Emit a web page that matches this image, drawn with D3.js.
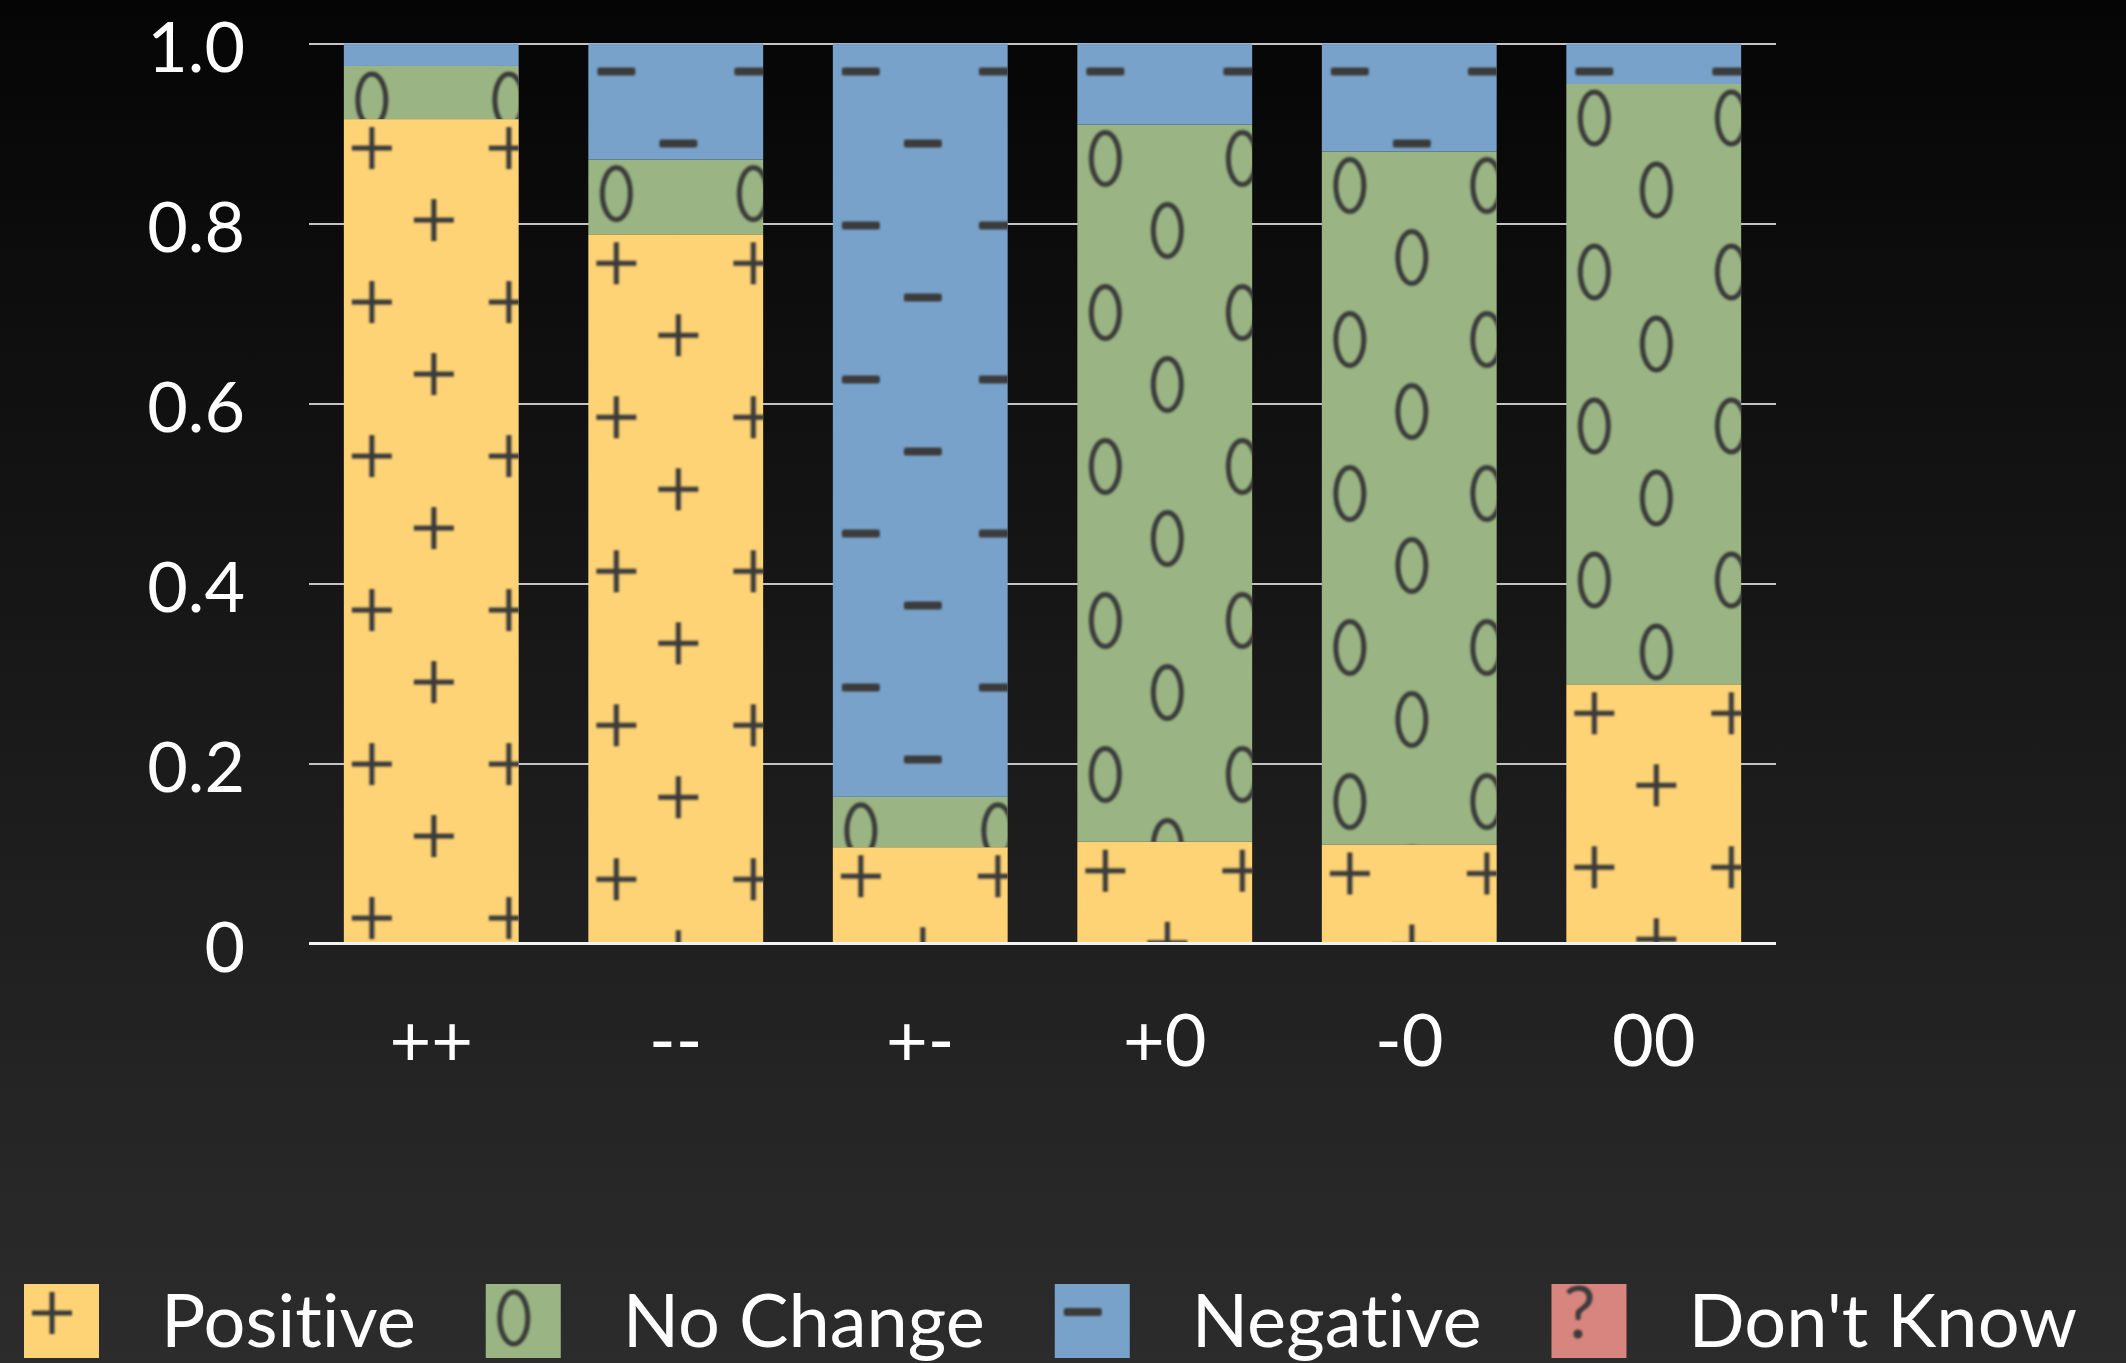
<!DOCTYPE html>
<html>
<head>
<meta charset="utf-8">
<script src="https://cdn.jsdelivr.net/npm/d3@7"></script>
<style>
  html, body { margin: 0; padding: 0; background: #000; overflow: hidden; }
  text { font-family: Lato, "Open Sans", sans-serif; font-variant-ligatures: none; font-feature-settings: "liga" 0, "clig" 0; }
</style>
</head>
<body>
<svg id="chart" width="2126" height="1363"></svg>
<script>
// Share of responses per outcome pair
const categories = ["++", "--", "+-", "+0", "-0", "00"];
const seriesNames = ["Positive", "No Change", "Negative", "Don't Know"];
const positive = [0.916, 0.788, 0.107, 0.113, 0.110, 0.288];
const noChange = [0.059, 0.083, 0.056, 0.797, 0.770, 0.667];
const negative = [0.025, 0.129, 0.837, 0.090, 0.120, 0.045];
const dontKnow = [0, 0, 0, 0, 0, 0];
const yTicks = [0, 0.2, 0.4, 0.6, 0.8, 1.0];
const yTickLabels = ["0", "0.2", "0.4", "0.6", "0.8", "1.0"];

const seriesValues = [positive, noChange, negative, dontKnow];

// Fill colour and marker glyph for each response type
const style = {
  "Positive":   { fill: "#fdd375", glyph: "plus",  cy: 29 },
  "No Change":  { fill: "#9ab583", glyph: "zero",  cy: 34 },
  "Negative":   { fill: "#78a2c9", glyph: "minus", cy: 28 },
  "Don't Know": { fill: "#d9857f", glyph: "quest", cy: 28 }
};
const glyphColor = "#3a3a3a";

const W = 2126, H = 1363;
const svg = d3.select("#chart");
const defs = svg.append("defs");

// Background: dark vertical gradient
const grad = defs.append("linearGradient").attr("id", "bg")
  .attr("x1", 0).attr("y1", 0).attr("x2", 0).attr("y2", 1);
grad.append("stop").attr("offset", "0%").attr("stop-color", "#050505");
grad.append("stop").attr("offset", "100%").attr("stop-color", "#2c2c2c");
svg.append("rect").attr("width", W).attr("height", H).attr("fill", "url(#bg)");

defs.append("filter").attr("id", "soft")
  .attr("x", "-20%").attr("y", "-20%").attr("width", "140%").attr("height", "140%")
  .append("feGaussianBlur").attr("stdDeviation", 0.8);

// Scales
const plotLeft = 309, plotRight = 1776, plotTop = 43.5, plotBottom = 943.5;
const x = d3.scaleBand().domain(categories)
  .range([plotLeft, plotRight]).paddingInner(0.285).paddingOuter(0.1425);
const y = d3.scaleLinear().domain([0, 1]).range([plotBottom, plotTop]);

// Draw one marker glyph centred at (cx, cy)
function drawGlyph(g, kind, cx, cy) {
  const s = g.append("g").attr("filter", "url(#soft)");
  if (kind === "plus") {
    s.append("path").attr("d", `M${cx - 20},${cy}H${cx + 20}M${cx},${cy - 21}V${cy + 21}`)
      .attr("stroke", glyphColor).attr("stroke-width", 5).attr("fill", "none");
  } else if (kind === "zero") {
    s.append("ellipse").attr("cx", cx).attr("cy", cy).attr("rx", 14).attr("ry", 26)
      .attr("stroke", glyphColor).attr("stroke-width", 5).attr("fill", "none");
  } else if (kind === "minus") {
    s.append("rect").attr("x", cx - 19).attr("y", cy - 4).attr("width", 38).attr("height", 8)
      .attr("rx", 2.5).attr("fill", glyphColor);
  } else {
    s.append("text").attr("x", cx).attr("y", cy + 26).attr("text-anchor", "middle")
      .attr("font-size", 72).attr("fill", glyphColor).text("?");
  }
}

// Staggered marker texture anchored at a segment's top-left corner
const tileW = 137, tileH = 154;
let patCount = 0;
function makePattern(name, left, top) {
  const st = style[name];
  const id = "pat" + (patCount++);
  const p = defs.append("pattern").attr("id", id)
    .attr("patternUnits", "userSpaceOnUse")
    .attr("x", left - 2).attr("y", top + st.cy - 32)
    .attr("width", tileW).attr("height", tileH);
  drawGlyph(p, st.glyph, 30, 32);
  drawGlyph(p, st.glyph, 92, 104);
  return id;
}

// Gridlines (behind the bars)
svg.append("g").attr("class", "grid")
  .attr("transform", `translate(${plotLeft},0)`)
  .call(d3.axisRight(y).tickValues(yTicks).tickSize(plotRight - plotLeft).tickFormat(""))
  .call(g => g.select(".domain").remove())
  .call(g => g.selectAll("line").attr("stroke", "#c4c4c4").attr("stroke-width", 2));

// Stacked bars
const rows = categories.map((c, i) => {
  const r = { category: c };
  seriesNames.forEach((s, k) => { r[s] = seriesValues[k][i]; });
  return r;
});
const stacked = d3.stack().keys(seriesNames)(rows);

const barsG = svg.append("g");
stacked.forEach(layer => {
  const name = layer.key;
  const lg = barsG.append("g");
  layer.forEach(d => {
    const cat = d.data.category;
    const x0 = x(cat), bw = x.bandwidth();
    const yTop = y(d[1]), h = y(d[0]) - y(d[1]);
    if (h <= 0) return;
    lg.append("rect").attr("x", x0).attr("y", yTop).attr("width", bw).attr("height", h)
      .attr("fill", style[name].fill);
    const pid = makePattern(name, x0, yTop);
    lg.append("rect").attr("x", x0).attr("y", yTop).attr("width", bw).attr("height", h)
      .attr("fill", `url(#${pid})`);
  });
});

// Baseline
svg.append("line").attr("x1", plotLeft).attr("x2", plotRight)
  .attr("y1", y(0)).attr("y2", y(0))
  .attr("stroke", "#f2f2f2").attr("stroke-width", 3);

// Y tick labels
svg.append("g").attr("transform", `translate(245,0)`)
  .call(d3.axisLeft(y).tickValues(yTicks).tickSize(0).tickPadding(0)
    .tickFormat((d, i) => yTickLabels[i]))
  .call(g => g.select(".domain").remove())
  .call(g => g.selectAll("text")
    .attr("fill", "#ffffff").attr("font-size", 70)
    .attr("font-family", "Lato, sans-serif")
    .attr("dy", 28).attr("text-anchor", "end"));

// X category labels
svg.append("g").attr("transform", `translate(0,${plotBottom})`)
  .call(d3.axisBottom(x).tickSize(0).tickPadding(0))
  .call(g => g.select(".domain").remove())
  .call(g => g.selectAll("text")
    .attr("fill", "#ffffff").attr("font-size", 72)
    .attr("font-family", "Lato, sans-serif")
    .attr("y", 0).attr("dy", 122));

// Legend
const legend = svg.append("g");
let lx = 24;
const swTop = 1284, swW = 75, swH = 74;
seriesNames.forEach(name => {
  legend.append("rect").attr("x", lx).attr("y", swTop).attr("width", swW).attr("height", swH)
    .attr("fill", style[name].fill);
  const pid = makePattern(name, lx, swTop);
  legend.append("rect").attr("x", lx).attr("y", swTop).attr("width", swW).attr("height", swH)
    .attr("fill", `url(#${pid})`);
  const t = legend.append("text").attr("x", lx + 137).attr("y", 1347)
    .attr("fill", "#ffffff").attr("font-size", 74).text(name);
  lx = lx + 137 + t.node().getComputedTextLength() + 70;
});
</script>
</body>
</html>
